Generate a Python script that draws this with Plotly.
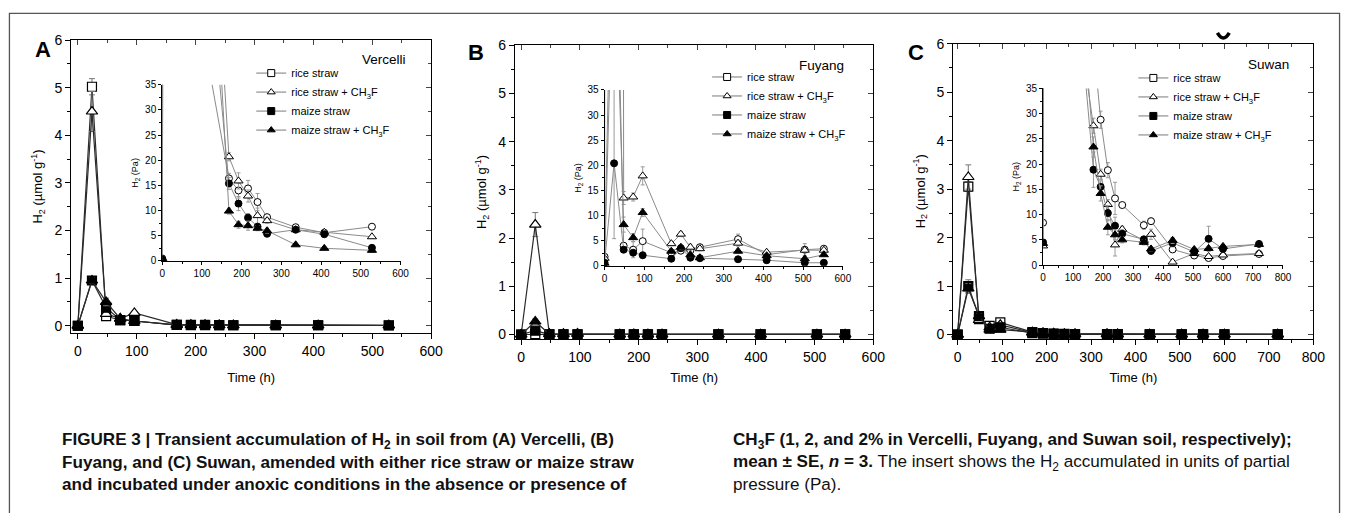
import plotly.graph_objects as go

W, H = 1356, 513

# ---------------- data ----------------
series_names = ["rice straw", "rice straw + CH<sub>3</sub>F",
                "maize straw", "maize straw + CH<sub>3</sub>F"]

# Panel A - Vercelli (umol g-1)
a_time = [0, 24, 48, 72, 96, 168, 192, 216, 240, 264, 336, 408, 528]
a_rice = [0, 5.02, 0.20, 0.12, 0.10, 0.02, 0.02, 0.02, 0.015, 0.01, 0.01, 0.01, 0.01]
a_rice_ch3f = [0, 4.50, 0.25, 0.15, 0.27, 0.025, 0.02, 0.02, 0.015, 0.01, 0.01, 0.01, 0.01]
a_maize = [0, 0.95, 0.38, 0.12, 0.10, 0.02, 0.015, 0.01, 0.01, 0.01, 0.01, 0.01, 0.005]
a_maize_ch3f = [0, 0.95, 0.50, 0.15, 0.10, 0.01, 0.01, 0.01, 0.01, 0.01, 0.005, 0.005, 0.005]
a_rice_err = [0, 0.17, 0.05, 0.03, 0.02, 0, 0, 0, 0, 0, 0, 0, 0]
a_rice_ch3f_err = [0, 0.42, 0.05, 0.03, 0.03, 0, 0, 0, 0, 0, 0, 0, 0]
a_maize_err = [0, 0.05, 0.08, 0.03, 0.02, 0, 0, 0, 0, 0, 0, 0, 0]
a_maize_ch3f_err = [0, 0.05, 0.08, 0.03, 0.02, 0, 0, 0, 0, 0, 0, 0, 0]
# Panel A inset (Pa)
ia_rice = [0.5, 3900, 160, 95, 48, 16.4, 14.0, 14.4, 11.7, 8.7, 6.7, 5.6, 6.8]
ia_rice_ch3f = [0.5, 3500, 200, 120, 114, 20.7, 15.9, 12.9, 9.0, 8.0, 6.2, 5.7, 4.8]
ia_maize = [0.3, 760, 320, 96, 77, 15.4, 11.4, 8.6, 6.8, 5.4, 6.2, 5.3, 2.6]
ia_maize_ch3f = [0.3, 760, 400, 120, 110, 9.9, 7.2, 7.0, 6.5, 6.0, 3.2, 2.5, 2.1]
ia_rice_err = [0, 0, 0, 0, 0, 1.0, 1.5, 1.6, 1.7, 0.5, 0.4, 0.3, 0.3]
ia_rice_ch3f_err = [0, 0, 0, 0, 0, 0.8, 1.6, 1.2, 1.5, 0.5, 0.4, 0.3, 0.3]
ia_maize_err = [0, 0, 0, 0, 0, 1.2, 1.4, 0.8, 0.5, 0.6, 0.4, 0.3, 0.3]
ia_maize_ch3f_err = [0, 0, 0, 0, 0, 0.6, 0.7, 0.9, 0.5, 0.5, 0.3, 0.3, 0.3]

# Panel B - Fuyang (umol g-1)
b_time = [0, 24, 48, 72, 96, 168, 192, 216, 240, 336, 408, 504, 552]
b_rice = [0, 0.01, 0.005, 0.005, 0.005, 0.003, 0.003, 0.003, 0.003, 0.005, 0.003, 0.003, 0.003]
b_rice_ch3f = [0, 2.28, 0.015, 0.015, 0.02, 0.005, 0.006, 0.004, 0.004, 0.005, 0.003, 0.003, 0.003]
b_maize = [0, 0.08, 0.004, 0.003, 0.003, 0.002, 0.004, 0.002, 0.002, 0.002, 0.001, 0.001, 0.001]
b_maize_ch3f = [0, 0.27, 0.01, 0.006, 0.012, 0.003, 0.004, 0.003, 0.002, 0.003, 0.002, 0.002, 0.002]
b_rice_err = [0, 0.02, 0, 0, 0, 0, 0, 0, 0, 0, 0, 0, 0]
b_rice_ch3f_err = [0, 0.25, 0, 0, 0, 0, 0, 0, 0, 0, 0, 0, 0]
b_maize_err = [0, 0.03, 0, 0, 0, 0, 0, 0, 0, 0, 0, 0, 0]
b_maize_ch3f_err = [0, 0.05, 0, 0, 0, 0, 0, 0, 0, 0, 0, 0, 0]
# Panel B inset (Pa)
ib_rice = [1.8, 90, 4.0, 3.2, 4.9, 2.6, 3.0, 3.0, 3.7, 5.3, 2.2, 3.2, 3.4]
ib_rice_ch3f = [1.5, 2000, 13.5, 13.7, 17.9, 4.4, 6.3, 3.7, 3.4, 4.5, 2.7, 3.1, 3.1]
ib_maize = [0.6, 20.4, 3.2, 2.6, 2.1, 1.4, 3.5, 1.6, 1.5, 1.3, 1.1, 0.6, 0.6]
ib_maize_ch3f = [0.5, 69, 8.2, 5.6, 10.6, 2.9, 3.7, 2.2, 1.6, 2.9, 2.0, 1.4, 2.2]
ib_rice_err = [0, 0, 0.5, 1.6, 2.4, 0.4, 0.5, 0.5, 0.4, 1.0, 0.3, 1.2, 0.4]
ib_rice_ch3f_err = [0, 0, 1.3, 0.8, 1.8, 0.4, 0.5, 0.6, 0.4, 0.6, 0.3, 0.5, 0.3]
ib_maize_err = [0, 15.0, 0.4, 0.4, 0.3, 0.3, 0.6, 0.4, 0.3, 0.2, 0.2, 0.2, 0.2]
ib_maize_ch3f_err = [0, 0, 1.5, 0.8, 0.8, 0.4, 0.5, 0.4, 0.3, 0.4, 0.3, 0.3, 0.3]

# Panel C - Suwan (umol g-1)
c_time = [0, 24, 48, 72, 96, 168, 192, 216, 240, 264, 336, 360, 432, 504, 552, 600, 720]
c_rice = [0, 3.05, 0.32, 0.18, 0.25, 0.05, 0.03, 0.02, 0.015, 0.01, 0.01, 0.01, 0.005, 0.003, 0.003, 0.003, 0.003]
c_rice_ch3f = [0, 3.25, 0.30, 0.15, 0.20, 0.04, 0.03, 0.02, 0.01, 0.01, 0.01, 0.01, 0.003, 0.003, 0.003, 0.003, 0.003]
c_maize = [0, 1.00, 0.38, 0.12, 0.15, 0.03, 0.02, 0.015, 0.01, 0.01, 0.01, 0.005, 0.005, 0.005, 0.005, 0.005, 0.005]
c_maize_ch3f = [0, 0.95, 0.38, 0.10, 0.10, 0.05, 0.03, 0.02, 0.01, 0.01, 0.01, 0.005, 0.005, 0.005, 0.005, 0.005, 0.005]
c_rice_err = [0, 0.10, 0.04, 0.03, 0.03, 0, 0, 0, 0, 0, 0, 0, 0, 0, 0, 0, 0]
c_rice_ch3f_err = [0, 0.25, 0.04, 0.03, 0.03, 0, 0, 0, 0, 0, 0, 0, 0, 0, 0, 0, 0]
c_maize_err = [0, 0.13, 0.05, 0.03, 0.03, 0, 0, 0, 0, 0, 0, 0, 0, 0, 0, 0, 0]
c_maize_ch3f_err = [0, 0.10, 0.05, 0.03, 0.03, 0, 0, 0, 0, 0, 0, 0, 0, 0, 0, 0, 0]
# Panel C inset (Pa)
ic_rice = [8.4, 2500, 600, 300, 280, 44, 28.8, 18.8, 13.2, 11.9, 7.9, 8.7, 3.1, 1.9, 1.4, 1.8, 2.2]
ic_rice_ch3f = [3.8, 2700, 250, 130, 57, 27.6, 18.0, 12.0, 4.0, 7.1, 4.9, 6.1, 0.6, 2.3, 1.7, 2.0, 2.3]
ic_maize = [4.5, 900, 340, 110, 67, 18.9, 15.5, 10.3, 7.8, 6.2, 5.1, 2.8, 4.4, 2.6, 5.2, 3.2, 4.2]
ic_maize_ch3f = [4.3, 850, 340, 90, 76, 23.4, 14.2, 7.5, 6.0, 5.0, 4.5, 3.2, 4.9, 3.1, 3.3, 3.7, 4.1]
ic_rice_err = [0, 0, 0, 0, 0, 0, 1.7, 1.5, 3.2, 0.5, 0.8, 0.6, 0.4, 0.5, 0.5, 0.3, 0.3]
ic_rice_ch3f_err = [0, 0, 0, 0, 0, 1.5, 1.0, 1.0, 2.2, 0.6, 0.5, 1.0, 0.3, 0.4, 0.3, 0.3, 0.3]
ic_maize_err = [0, 0, 0, 0, 0, 3.5, 1.2, 1.5, 1.7, 0.8, 0.5, 0.4, 0.8, 0.4, 2.5, 0.5, 0.3]
ic_maize_ch3f_err = [0, 0, 0, 0, 0, 2.0, 1.5, 1.5, 1.0, 0.6, 0.5, 0.4, 0.6, 0.4, 0.4, 0.4, 0.3]

site_names = ["Vercelli", "Fuyang", "Suwan"]
panel_letters = ["A", "B", "C"]

# ---------------- styling ----------------
FONT = "Liberation Sans, Arial, sans-serif"
CAPFONT = "Liberation Sans, Arial, sans-serif"
main_symbols = ["square", "triangle-up", "square", "triangle-up"]
inset_symbols = ["circle", "triangle-up", "circle", "triangle-up"]
fills = ["white", "white", "black", "black"]
main_sizes = [9, 10, 9, 10]
inset_sizes = [7, 8, 7, 8]


def xp(p):
    return p / W


def yp(p):
    return 1 - p / H


def ax_name(n, kind):
    return kind if n == 1 else f"{kind}{n}"


def ax_key(n, kind):
    return f"{kind}axis" if n == 1 else f"{kind}axis{n}"


panels = [
    dict(time=a_time,
         main=[a_rice, a_rice_ch3f, a_maize, a_maize_ch3f],
         main_err=[a_rice_err, a_rice_ch3f_err, a_maize_err, a_maize_ch3f_err],
         inset=[ia_rice, ia_rice_ch3f, ia_maize, ia_maize_ch3f],
         inset_err=[ia_rice_err, ia_rice_ch3f_err, ia_maize_err, ia_maize_ch3f_err],
         main_px=(69, 433, 33, 334), xr=[-11.2, 600], yr=[-0.15, 6], xmax=600,
         inset_px=(161, 402, 79, 260), title_standoff=15,
         letter_px=(40, 43), site_px=(410, 53), legend_px=(251, 52)),
    dict(time=b_time,
         main=[b_rice, b_rice_ch3f, b_maize, b_maize_ch3f],
         main_err=[b_rice_err, b_rice_ch3f_err, b_maize_err, b_maize_ch3f_err],
         inset=[ib_rice, ib_rice_ch3f, ib_maize, ib_maize_ch3f],
         inset_err=[ib_rice_err, ib_rice_ch3f_err, ib_maize_err, ib_maize_ch3f_err],
         main_px=(517.7, 880, 38.3, 340), xr=[-10.6, 600], yr=[-0.087, 6], xmax=600,
         inset_px=(608.3, 849.3, 84.3, 265), title_standoff=9,
         letter_px=(478, 46), site_px=(852, 59), legend_px=(712, 56)),
    dict(time=c_time,
         main=[c_rice, c_rice_ch3f, c_maize, c_maize_ch3f],
         main_err=[c_rice_err, c_rice_ch3f_err, c_maize_err, c_maize_ch3f_err],
         inset=[ic_rice, ic_rice_ch3f, ic_maize, ic_maize_ch3f],
         inset_err=[ic_rice_err, ic_rice_ch3f_err, ic_maize_err, ic_maize_ch3f_err],
         main_px=(961, 1325, 36.7, 340), xr=[-9.6, 800], yr=[-0.086, 6], xmax=800,
         inset_px=(1051.7, 1294.3, 82.7, 264.3), title_standoff=9,
         letter_px=(923, 46), site_px=(1302, 58), legend_px=(1143, 57)),
]

fig = go.Figure()
layout = dict(width=W, height=H, margin=dict(l=0, r=0, t=0, b=0),
              paper_bgcolor="white", plot_bgcolor="rgba(0,0,0,0)",
              font=dict(family=FONT, color="black"), showlegend=True)
annotations = []
shapes = []

for k, p in enumerate(panels):
    nm, no, ni = 3 * k + 1, 3 * k + 2, 3 * k + 3
    x0, x1, y0, y1 = p["main_px"]
    xdom = [xp(x0), xp(x1)]
    ydom = [yp(y1), yp(y0)]
    legend_id = "legend" if k == 0 else f"legend{k + 1}"

    # main axes (left / bottom, ticks outside)
    layout[ax_key(nm, "x")] = dict(
        domain=xdom, range=p["xr"], anchor=ax_name(nm, "y"), showgrid=False, zeroline=False,
        showline=True, linecolor="black", linewidth=1.3, ticks="outside", ticklen=5,
        tickwidth=1.2, tickcolor="black", dtick=100, tick0=0,
        minor=dict(ticks="outside", ticklen=3, dtick=50, tickcolor="black", tickwidth=1),
        tickfont=dict(size=14),
        title=dict(text="Time (h)", font=dict(size=13), standoff=p["title_standoff"]))
    layout[ax_key(nm, "y")] = dict(
        domain=ydom, range=p["yr"], anchor=ax_name(nm, "x"), showgrid=False, zeroline=False,
        showline=True, linecolor="black", linewidth=1.3, ticks="outside", ticklen=5,
        tickwidth=1.2, tickcolor="black", dtick=1, tick0=0,
        minor=dict(ticks="outside", ticklen=3, dtick=0.5, tickcolor="black", tickwidth=1),
        tickfont=dict(size=14),
        title=dict(text="H<sub>2</sub> (µmol g<sup>-1</sup>)", font=dict(size=13), standoff=8))
    # mirrored frame (top / right, ticks inside)
    layout[ax_key(no, "x")] = dict(
        domain=xdom, range=p["xr"], anchor=ax_name(no, "y"), overlaying=ax_name(nm, "x"),
        side="top", showgrid=False, zeroline=False, showline=True, linecolor="black",
        linewidth=1.3, ticks="inside", ticklen=5, tickwidth=1.2, dtick=100, tick0=0,
        minor=dict(ticks="inside", ticklen=3, dtick=50), showticklabels=False)
    layout[ax_key(no, "y")] = dict(
        domain=ydom, range=p["yr"], anchor=ax_name(no, "x"), overlaying=ax_name(nm, "y"),
        side="right", showgrid=False, zeroline=False, showline=True, linecolor="black",
        linewidth=1.3, ticks="inside", ticklen=5, tickwidth=1.2, dtick=1, tick0=0,
        minor=dict(ticks="inside", ticklen=3, dtick=0.5), showticklabels=False)
    fig.add_trace(go.Scatter(x=[], y=[], xaxis=ax_name(no, "x"), yaxis=ax_name(no, "y"),
                             showlegend=False, hoverinfo="skip"))

    # inset axes
    ix0, ix1, iy0, iy1 = p["inset_px"]
    layout[ax_key(ni, "x")] = dict(
        domain=[xp(ix0), xp(ix1)], range=[0, p["xmax"]], anchor=ax_name(ni, "y"),
        showgrid=False, zeroline=False, showline=True, linecolor="black", linewidth=1,
        ticks="outside", ticklen=3, tickwidth=1, tickcolor="black", dtick=100, tick0=0,
        minor=dict(ticks="outside", ticklen=2, dtick=50, tickcolor="black"),
        tickfont=dict(size=10))
    layout[ax_key(ni, "y")] = dict(
        domain=[yp(iy1), yp(iy0)], range=[0, 35], anchor=ax_name(ni, "x"),
        showgrid=False, zeroline=False, showline=True, linecolor="black", linewidth=1,
        ticks="outside", ticklen=3, tickwidth=1, tickcolor="black", dtick=5, tick0=0,
        minor=dict(ticks="outside", ticklen=2, dtick=2.5, tickcolor="black"),
        tickfont=dict(size=10),
        title=dict(text="H<sub>2</sub> (Pa)", font=dict(size=9), standoff=4))

    for s in range(4):
        # main curves
        fig.add_trace(go.Scatter(
            x=p["time"], y=p["main"][s], mode="lines+markers",
            xaxis=ax_name(nm, "x"), yaxis=ax_name(nm, "y"), showlegend=False,
            line=dict(color="#2a2a2a", width=1.2),
            marker=dict(symbol=main_symbols[s], size=main_sizes[s], color=fills[s],
                        line=dict(color="black", width=1.2)),
            error_y=dict(type="data", array=p["main_err"][s], color="#777",
                         thickness=1, width=3),
            cliponaxis=False))
    for s in range(4):
        # inset curves
        fig.add_trace(go.Scatter(
            x=p["time"], y=p["inset"][s], mode="lines+markers",
            xaxis=ax_name(ni, "x"), yaxis=ax_name(ni, "y"), showlegend=False,
            line=dict(color="#8a8a8a", width=1),
            marker=dict(symbol=inset_symbols[s], size=inset_sizes[s], color=fills[s],
                        line=dict(color="black", width=1)),
            error_y=dict(type="data", array=p["inset_err"][s], color="#9a9a9a",
                         thickness=1, width=2)))
    for s in range(4):
        # legend entries
        fig.add_trace(go.Scatter(
            x=[None], y=[None], mode="lines+markers", name=series_names[s],
            xaxis=ax_name(ni, "x"), yaxis=ax_name(ni, "y"), legend=legend_id,
            line=dict(color="#7a7a7a", width=1),
            marker=dict(symbol=main_symbols[s], size=7, color=fills[s],
                        line=dict(color="black", width=1))))

    lx, ly = p["legend_px"]
    layout[legend_id] = dict(x=xp(lx), y=yp(ly), xanchor="left", yanchor="top",
                             bgcolor="rgba(0,0,0,0)", borderwidth=0,
                             font=dict(size=11, family=FONT), tracegroupgap=0)

    # panel letter and site name
    annotations.append(dict(text=f"<b>{panel_letters[k]}</b>", x=xp(p["letter_px"][0]),
                            y=yp(p["letter_px"][1]), xref="paper", yref="paper",
                            showarrow=False, font=dict(size=22, family=FONT),
                            xanchor="center", yanchor="middle"))
    annotations.append(dict(text=site_names[k], x=xp(p["site_px"][0]), y=yp(p["site_px"][1]),
                            xref="paper", yref="paper", showarrow=False,
                            font=dict(size=13.5, family=FONT),
                            xanchor="right", yanchor="middle"))

# caption
cap_left = [
    "<b>FIGURE 3 | Transient accumulation of H<sub>2</sub> in soil from (A) Vercelli, (B)</b>",
    "<b>Fuyang, and (C) Suwan, amended with either rice straw or maize straw</b>",
    "<b>and incubated under anoxic conditions in the absence or presence of</b>",
]
cap_right = [
    "<b>CH<sub>3</sub>F (1, 2, and 2% in Vercelli, Fuyang, and Suwan soil, respectively);</b>",
    "<b>mean ± SE, <i>n</i> = 3.</b> The insert shows the H<sub>2</sub> accumulated in units of partial",
    "pressure (Pa).",
]
cap_y = [445, 467.5, 490]
for i in range(3):
    annotations.append(dict(text=cap_left[i], x=xp(58), y=yp(cap_y[i]), xref="paper",
                            yref="paper", showarrow=False, xanchor="left", yanchor="middle",
                            font=dict(size=17.1, family=CAPFONT, color="#111")))
    annotations.append(dict(text=cap_right[i], x=xp(736), y=yp(cap_y[i]), xref="paper",
                            yref="paper", showarrow=False, xanchor="left", yanchor="middle",
                            font=dict(size=17.1, family=CAPFONT, color="#111")))

# outer frame and a small stray mark in the source image
shapes.append(dict(type="rect", xref="paper", yref="paper", x0=xp(6.5), x1=xp(1351.5),
                   y0=yp(530), y1=yp(5.5), line=dict(color="#555", width=1.3),
                   fillcolor="rgba(0,0,0,0)", layer="below"))
shapes.append(dict(type="path", xref="paper", yref="paper",
                   path=f"M {xp(1228)},{yp(25.5)} Q {xp(1234)},{yp(36)} {xp(1240)},{yp(25.5)}",
                   line=dict(color="black", width=3.5)))

layout["annotations"] = annotations
layout["shapes"] = shapes
fig.update_layout(**layout)
fig.write_html(
    "out.html",
    config={"displayModeBar": False},
    post_script=("document.body.style.margin='0px';"
                 "document.body.style.overflow='hidden';"
                 "document.documentElement.style.overflow='hidden';"))
